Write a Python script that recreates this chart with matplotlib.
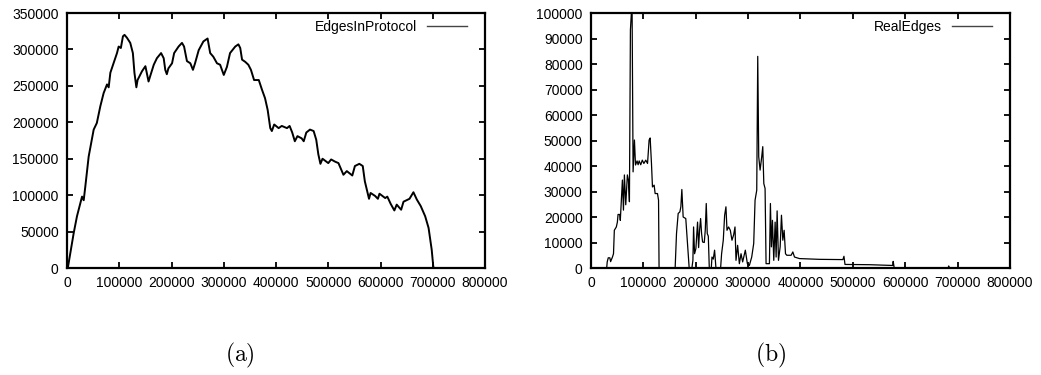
import matplotlib
matplotlib.use("Agg")
import matplotlib.pyplot as plt

plt.rcParams['font.family'] = ['Liberation Sans', 'DejaVu Sans']
plt.rcParams['mathtext.fontset'] = 'cm'

# (a) EdgesInProtocol
edges_x = [0, 2000, 12750, 19000, 28700, 31900, 35000, 41400, 51000, 57000, 63700, 70000,
           76500, 79700, 82900, 89000, 95600, 98800, 103000, 107000, 110000, 114700, 121000,
           126000, 129000, 132700, 135000, 143400, 150000, 156000, 159000, 166000, 172000,
           180000, 185000, 188000, 191000, 194000, 201000, 205000, 213500, 220000, 224000,
           229500, 236000, 241000, 245000, 252000, 261000, 269000, 274000, 280000, 287000,
           293000, 300000, 306000, 312000, 322000, 328000, 331500, 335000, 341000, 347000,
           352000, 358000, 367000, 373000, 379000, 384000, 389000, 392000, 396500, 405000,
           411000, 421000, 426000, 431000, 436000, 441000, 449000, 453000, 458000, 465000,
           472000, 477000, 481000, 485000, 489000, 500000, 505500, 513000, 519500, 529000,
           535500, 546000, 551000, 559500, 566000, 570000, 578000, 581000, 589500, 595000,
           598000, 609000, 613000, 619500, 626500, 631000, 639500, 644000, 655500, 663000,
           669500, 677000, 685500, 692000, 698000, 701000, 702000]
edges_y = [0, 2300, 48000, 71000, 98000, 93000, 112000, 153000, 190000, 199000, 222000, 240000,
           252000, 248000, 268000, 281000, 295000, 304000, 302000, 318000, 320000, 316000, 309000,
           295000, 268000, 248000, 258000, 270000, 277000, 256000, 263000, 279000, 288000,
           295000, 288000, 272000, 266000, 274000, 281000, 295000, 304000, 309000, 304000,
           284000, 281000, 272000, 281000, 299000, 311000, 315000, 295000, 290000, 281000,
           279000, 265000, 276000, 295000, 304000, 307000, 302000, 286000, 283000, 279000,
           272000, 258000, 258000, 245000, 233000, 217000, 192000, 188000, 197000, 192000,
           195000, 192000, 195000, 186000, 174000, 181000, 178000, 174000, 186000, 190000,
           188000, 176000, 156000, 143000, 150000, 144000, 149000, 146000, 144000, 128000,
           133000, 127000, 140000, 143000, 140000, 119000, 95000, 103000, 99000, 95000,
           102000, 96000, 98000, 88000, 79000, 87000, 80000, 91000, 95000, 104000,
           94000, 85000, 71000, 55000, 25000, 2000, 0]

# (b) RealEdges
real_x = [0, 30000, 31000, 33000, 36000, 37500, 41000, 43000, 44600, 48400, 50400, 51700,
          54900, 56000, 58000, 60000, 62000, 63800, 66400, 69500, 71500, 73400, 75300, 77000,
          78500, 80400, 83000, 85000, 88000, 90000, 92000, 95000, 98000, 101000, 104600,
          108000, 111000, 113000, 115500, 117400, 120600, 122500, 127000, 129000, 130000,
          160700, 163300, 166500, 169700, 171600, 173500, 176000, 181000, 183000, 185700,
          187500, 192700, 194600, 195900, 197800, 200300, 203500, 205500, 207400, 209300,
          211200, 213100, 216300, 218200, 220100, 222000, 224000, 225900, 229700, 231000,
          233500, 236000, 238600, 247500, 249400, 252600, 255200, 257700, 259700, 262800,
          266000, 269200, 272400, 275000, 276900, 280000, 283300, 286500, 289600, 294700,
          298600, 302400, 306900, 310700, 313300, 316500, 318400, 320300, 322900, 326000,
          328000, 330000, 332400, 334300, 340700, 342600, 344500, 346500, 349000, 351600,
          353500, 355400, 358000, 361200, 363700, 366300, 368800, 371400, 373900, 382200,
          385400, 388600, 398100, 436400, 481000, 483000, 485000, 532000, 575900, 577000,
          579000, 598000, 599000, 600000, 682000, 683000, 685000, 700000]
real_y = [0, 0, 2400, 4000, 4000, 2500, 4300, 5600, 14800, 16100, 18000, 21000,
          21000, 18700, 26600, 34500, 22700, 36500, 24800, 36500, 34500, 26000, 93400, 99500,
          101000, 37700, 50200, 40400, 42000, 40500, 42000, 40500, 42300, 41000, 42300,
          41000, 50200, 51000, 41000, 31800, 32500, 29200, 29200, 26600, 0,
          0, 13500, 21400, 22000, 24000, 30800, 20000, 19400, 13500, 5600,
          0, 0, 3000, 16100, 5600, 7600, 18000, 8000, 15000, 19400,
          13500, 10200, 10000, 14800, 25300, 13500, 12500, 0, 0, 4300,
          3500, 7000, 0, 0, 5600, 10900, 20700, 24000, 14800, 16100,
          14800, 10900, 13000, 16100, 3000, 8900, 1700, 5600, 2400, 7000,
          1700, 1000, 4300, 9600, 26600, 30500, 83000, 43600, 38400, 43600,
          47600, 33100, 31200, 1700, 1700, 25300, 8300, 18700, 3000, 18000,
          4300, 22400, 3000, 8300, 20700, 10900, 14800, 5600, 5000, 5000,
          6300, 4300, 3700, 3400, 3300, 4600, 1400, 1300, 1000, 2600,
          0, 0, 400, 0, 0, 800, 0, 0]

x_ticks = list(range(0, 800001, 100000))

fig = plt.figure(figsize=(10.41, 3.75), dpi=100)
ax_a = fig.add_axes([0.0644, 0.2853, 0.4015, 0.68])
ax_b = fig.add_axes([0.5677, 0.2853, 0.4025, 0.68])


def style_axes(ax, ylim, yticks):
    ax.set_xlim(0, 800000)
    ax.set_ylim(*ylim)
    ax.set_xticks(x_ticks)
    ax.set_xticklabels([str(t) for t in x_ticks])
    ax.set_yticks(yticks)
    ax.set_yticklabels([str(t) for t in yticks])
    ax.tick_params(direction='in', length=4.5, width=1.3, top=True, right=True,
                   labelsize=10, pad=6, colors='black')
    for sp in ax.spines.values():
        sp.set_linewidth(1.6)


ax_a.plot(edges_x, edges_y, color='black', lw=1.4, label='EdgesInProtocol')
style_axes(ax_a, (0, 350000), list(range(0, 350001, 50000)))

ax_b.plot(real_x, real_y, color='black', lw=0.9, label='RealEdges')
style_axes(ax_b, (0, 100000), list(range(0, 100001, 10000)))

for ax in (ax_a, ax_b):
    leg = ax.legend(loc='upper right', bbox_to_anchor=(1 - 18 / 418, 1 - 7 / 255),
                    frameon=False, markerfirst=False, fontsize=10, handlelength=2.9,
                    handletextpad=0.7, borderpad=0, borderaxespad=0)
    for h in leg.get_lines():
        h.set_color('#444444')
        h.set_linewidth(1.0)

fig.text(0.2305, 0.053, r'$\mathrm{(a)}$', ha='center', va='center', fontsize=17)
fig.text(0.7406, 0.053, r'$\mathrm{(b)}$', ha='center', va='center', fontsize=17)

fig.savefig('out.png', dpi=100)
